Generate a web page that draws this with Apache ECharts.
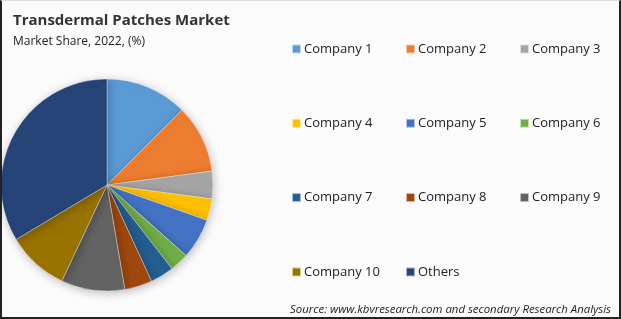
<!DOCTYPE html>
<html>
<head>
<meta charset="utf-8">
<script src="https://cdn.jsdelivr.net/npm/echarts@6/dist/echarts.min.js"></script>
<style>
html,body{margin:0;padding:0;background:#fff;}
#c{width:621px;height:319px;box-sizing:border-box;border-left:2px solid #222;border-right:2px solid #222;border-bottom:2px solid #222;border-top:1px solid #ddd;background:#fbfbfb;}
</style>
</head>
<body>
<div id="c"></div>
<script>
const categories = ['Company 1','Company 2','Company 3','Company 4','Company 5','Company 6','Company 7','Company 8','Company 9','Company 10','Others'];
const shares = [12.5, 10.4, 4.2, 3.3, 6.2, 2.9, 3.6, 4.2, 9.7, 9.4, 33.6];
const colors = ['#5B9BD5','#ED7D31','#A5A5A5','#FFC000','#4472C4','#70AD47','#255E91','#9E480E','#636363','#997300','#264478'];
const legendColumns = [
  ['Company 1','Company 4','Company 7','Company 10'],
  ['Company 2','Company 5','Company 8','Others'],
  ['Company 3','Company 6','Company 9']
];

const chart = echarts.init(document.getElementById('c'), null, {renderer:'canvas'});
const font = '"Open Sans", "Noto Sans", sans-serif';
const legendLeft = [284, 398, 512];
const legends = legendColumns.map((col, i) => ({
  orient: 'vertical',
  left: legendLeft[i],
  top: 35,
  data: col,
  icon: 'rect',
  itemWidth: 9,
  itemHeight: 9,
  itemGap: 58.3,
  selectedMode: false,
  textStyle: {fontFamily: font, fontSize: 13, color: '#222', lineHeight: 16, padding: [0,0,0,-2]}
}));

chart.setOption({
  backgroundColor: '#fbfbfb',
  color: colors,
  animation: false,
  title: [
    {text: 'Transdermal Patches Market', left: 6, top: 7,
     textStyle: {fontFamily: font, fontSize: 15, fontWeight: 'bold', color: '#333'}},
    {text: 'Market Share, 2022, (%)', left: 6, top: 30,
     textStyle: {fontFamily: font, fontSize: 12, fontWeight: 'normal', color: '#222'}},
    {text: 'Source: www.kbvresearch.com and secondary Research Analysis', right: 3, top: 298,
     textStyle: {fontFamily: font, fontSize: 11.4, fontStyle: 'italic', fontWeight: 'normal', color: '#222'}}
  ],
  legend: legends,
  series: [{
    type: 'pie',
    center: [105, 184],
    radius: 106,
    startAngle: 90,
    clockwise: true,
    label: {show: false},
    labelLine: {show: false},
    silent: true,
    itemStyle: {borderColor: 'rgba(255,255,255,0.6)', borderWidth: 0.6,
      shadowBlur: 10, shadowColor: 'rgba(0,0,0,0.25)', shadowOffsetX: 1, shadowOffsetY: 2},
    data: categories.map((n, i) => ({name: n, value: shares[i]}))
  }]
});
</script>
</body>
</html>
